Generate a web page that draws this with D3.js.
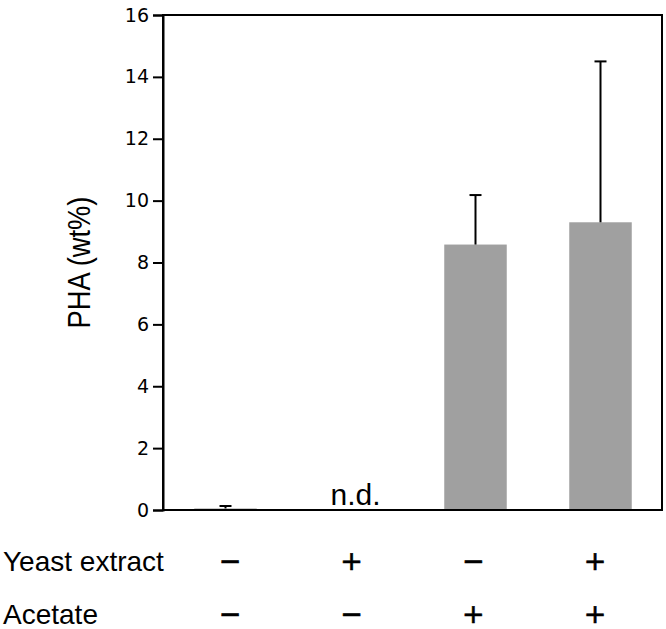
<!DOCTYPE html>
<html><head><meta charset="utf-8">
<script src="https://cdn.jsdelivr.net/npm/d3@7"></script>
<style>body{margin:0;background:#fff}</style>
</head><body>
<svg id="c" width="666" height="629"></svg>
<script>
const categories = ["A","B","C","D"];
const values = [0.05, null, 8.58, 9.30];
const errors = [0.08, null, 1.60, 5.20];
const yTicks = [0,2,4,6,8,10,12,14,16];
const yeastRow = ["−","+","−","+"];
const acetateRow = ["−","−","+","+"];

const svg = d3.select("#c");
const L=163, R=663, T=15, B=510;
const x = d3.scaleBand().domain(categories).range([L,R]).paddingInner(0.5).paddingOuter(0.25);
const y = d3.scaleLinear().domain([0,16]).range([B,T]);
const xs = d3.scalePoint().domain(categories).range([230,595]);
const SANS = "Liberation Sans, Arial, sans-serif";

// frame
svg.append("rect").attr("x",L).attr("y",T).attr("width",662-L).attr("height",B-T)
  .attr("fill","none").attr("stroke","#000").attr("stroke-width",2);

// bars
categories.forEach((c,i)=>{
  if(values[i]==null) return;
  svg.append("rect").attr("x",x(c)).attr("width",x.bandwidth())
    .attr("y",y(values[i])).attr("height",B-y(values[i])).attr("fill","#a0a0a0");
});

// error bars
categories.forEach((c,i)=>{
  if(values[i]==null) return;
  const cx = x(c)+x.bandwidth()/2;
  const top = y(values[i]+errors[i]);
  svg.append("line").attr("x1",cx).attr("x2",cx).attr("y1",y(values[i])).attr("y2",top)
    .attr("stroke","#000").attr("stroke-width",2);
  svg.append("line").attr("x1",cx-6).attr("x2",cx+6).attr("y1",top).attr("y2",top)
    .attr("stroke","#000").attr("stroke-width",2);
});

// y axis
const ax = svg.append("g").attr("transform",`translate(${L},0)`)
  .call(d3.axisLeft(y).tickValues(yTicks).tickSize(10).tickPadding(4));
ax.select(".domain").attr("stroke-width",2);
ax.selectAll(".tick line").attr("stroke-width",2);
ax.selectAll("text").attr("font-family","DejaVu Sans, Verdana").attr("font-size",19).attr("fill","#000");

// x baseline
svg.append("line").attr("x1",L).attr("x2",663).attr("y1",B).attr("y2",B).attr("stroke","#000").attr("stroke-width",2);

// y label
svg.append("text").attr("transform",`translate(90,${(T+B)/2}) rotate(-90) scale(0.88,1)`)
  .attr("text-anchor","middle").attr("font-family",SANS).attr("font-size",31)
  .text("PHA (wt%)");

// n.d.
svg.append("text").attr("x",x("B")+x.bandwidth()/2+5).attr("y",505).attr("text-anchor","middle")
  .attr("font-family",SANS).attr("font-size",30).text("n.d.");

// condition rows
const rows = [["Yeast extract",yeastRow,571,570],["Acetate",acetateRow,624,623]];
rows.forEach(([lab,arr,yy,ys])=>{
  svg.append("text").attr("x",3).attr("y",yy).attr("font-family",SANS).attr("font-size",28).text(lab);
  svg.selectAll(null).data(categories).enter().append("text")
    .attr("x",d=>xs(d)).attr("y",ys).attr("text-anchor","middle")
    .attr("font-family","DejaVu Sans").attr("font-size",27).attr("stroke","#000").attr("stroke-width",0.6)
    .text((d,i)=>arr[i]);
});
</script>
</body></html>
